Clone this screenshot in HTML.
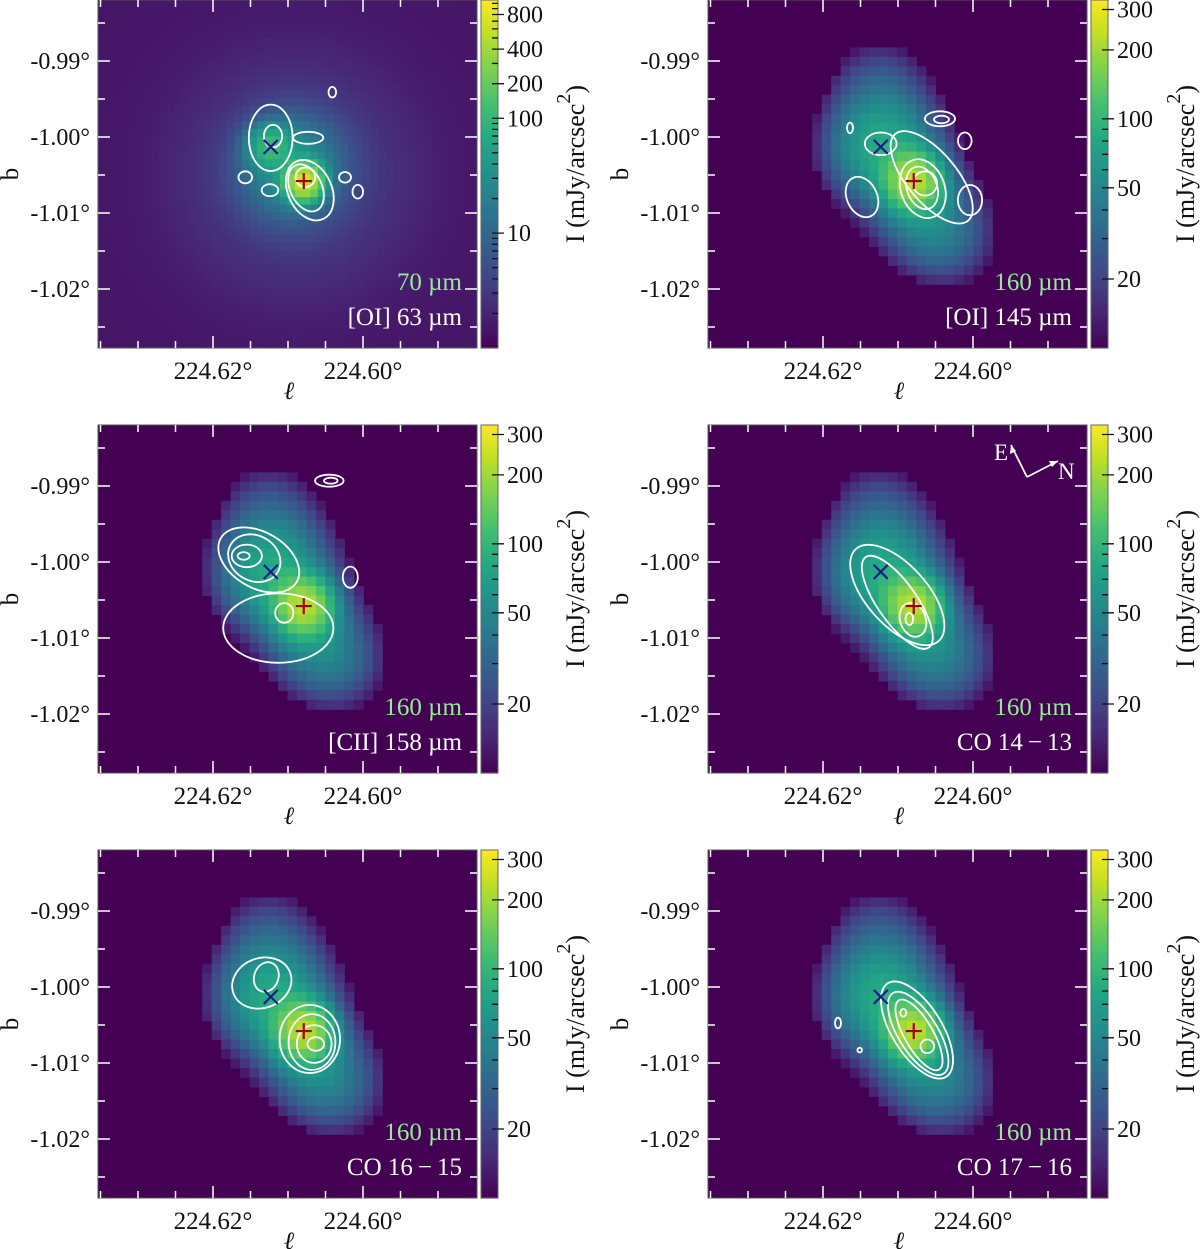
<!DOCTYPE html>
<html><head><meta charset="utf-8">
<style>
html,body{margin:0;padding:0;background:#fff;}
svg{display:block;}
text{font-family:"Liberation Serif","DejaVu Serif",serif;}
</style></head>
<body>
<svg id="fig" width="1200" height="1249" viewBox="0 0 1200 1249" xmlns="http://www.w3.org/2000/svg"></svg>
<script>
// ---------- data ----------
const panelTitles = ["[OI] 63 \u00b5m","[OI] 145 \u00b5m","[CII] 158 \u00b5m","CO 14\u2009\u2212\u200913","CO 16\u2009\u2212\u200915","CO 17\u2009\u2212\u200916"];
const panelBands = ["70 \u00b5m","160 \u00b5m","160 \u00b5m","160 \u00b5m","160 \u00b5m","160 \u00b5m"];
const xTickLabels = [224.62, 224.60];
const yTickLabels = [-0.99, -1.00, -1.01, -1.02];
const cbTicks70 = [10, 100, 200, 400, 800];
const cbTicks160 = [20, 50, 100, 200, 300];
const cbRange70 = [1, 1070];
const cbRange160 = [10, 330];
// markers (l, b)
const markerX = [224.6123, -1.0013];
const markerPlus = [224.6079, -1.0058];
// 70 um emission blobs: l, b, amplitude, sigma (mdeg)
const blob70L = [224.6079, 224.6123, 224.6095, 224.6090];
const blob70B = [-1.0058, -1.0013, -1.0040, -1.0050];
const blob70A = [700, 100, 35, 3];
const blob70S = [1.3, 1.6, 3.5, 9];
const bg70 = 1.5;
// 160 um emission blobs
const blob160L = [224.6079, 224.6123, 224.6067, 224.6033, 224.6127, 224.6090];
const blob160B = [-1.0058, -1.0013, -1.0103, -1.0136, -0.9925, -1.0040];
const blob160A = [180, 70, 30, 24, 18, 12];
const blob160S = [2.4, 4.5, 4.0, 4.5, 4.5, 8.0];
const cut160 = 12.5;
// contours per panel: l, b, rx (mdeg), ry (mdeg), angle (deg)
const c1L = [224.6123,224.6120,224.6071,224.6076,224.6077,224.6157,224.6124,224.6024,224.6007,224.6041,224.6073];
const c1B = [-1.0001,-0.9999,-1.0070,-1.0067,-1.0053,-1.0053,-1.0070,-1.0053,-1.0072,-0.9941,-1.0001];
const c1Rx = [2.9,1.2,2.9,2.1,1.3,0.9,1.1,0.8,0.7,0.5,2.0];
const c1Ry = [4.4,1.5,4.2,3.3,1.3,0.8,0.8,0.7,0.9,0.7,0.8];
const c1A = [0,0,-25,-25,0,0,0,0,0,0,0];
const c2L = [224.6123,224.6055,224.6067,224.6068,224.6064,224.6148,224.6004,224.6044,224.6042,224.6011,224.6164];
const c2B = [-1.0009,-1.0053,-1.0068,-1.0067,-1.0061,-1.0079,-1.0083,-0.9976,-0.9977,-1.0005,-0.9988];
const c2Rx = [2.1,7.5,2.9,2.0,1.6,2.0,1.6,2.0,1.0,0.9,0.4];
const c2Ry = [1.5,3.3,4.0,2.9,1.6,2.8,2.0,1.0,0.5,1.1,0.7];
const c2A = [0,50,-20,-20,0,-25,0,0,0,0,0];
const c3L = [224.6045,224.6043,224.6139,224.6113,224.6145,224.6155,224.6159,224.6105,224.6017];
const c3B = [-0.9893,-0.9893,-0.99974,-1.0087,-0.9995,-0.9992,-0.9992,-1.0067,-1.0020];
const c3Rx = [1.9,0.9,5.8,7.3,3.6,2.0,0.8,1.2,1.0];
const c3Ry = [0.8,0.4,3.7,4.6,3.0,1.5,0.5,1.3,1.4];
const c3A = [0,0,30,0,30,0,0,0,0];
const c4L = [224.6101,224.6101,224.6080,224.6085];
const c4B = [-1.00434,-1.0053,-1.0076,-1.0075];
const c4Rx = [8.2,7.3,1.7,0.5];
const c4Ry = [4.0,2.6,2.3,0.8];
const c4A = [48,55,-20,0];
const c5L = [224.6135,224.6129,224.6071,224.6068,224.6065,224.6063];
const c5B = [-0.99947,-0.99868,-1.00684,-1.00724,-1.0075,-1.0075];
const c5Rx = [4.0,1.6,4.0,3.1,2.3,1.1];
const c5Ry = [3.3,2.0,4.5,3.7,2.5,0.9];
const c5A = [-20,20,0,0,0,0];
const c6L = [224.60747,224.6073,224.6072,224.6061,224.6180,224.6151,224.6093];
const c6B = [-1.00566,-1.0061,-1.0063,-1.0078,-1.00474,-1.0083,-1.0034];
const c6Rx = [7.3,6.3,5.3,0.9,0.4,0.3,0.4];
const c6Ry = [3.3,2.6,1.9,0.9,0.7,0.3,0.5];
const c6A = [58,58,60,0,0,0,0];

// ---------- layout ----------
const NS = "http://www.w3.org/2000/svg";
const svg = document.getElementById('fig');
const PW = 379, PH = 348;
const colX = [98, 708];
const rowY = [0, 425, 850];
const xs = l => 115 + (224.62 - l) * 7500;
const ys = b => 61 + (-0.99 - b) * 7600;
const md = m => m * 7.55; // mdeg -> px

function mk(tag, attrs, parent) {
  const e = document.createElementNS(NS, tag);
  for (const k in attrs) e.setAttribute(k, attrs[k]);
  (parent || svg).appendChild(e);
  return e;
}
const VS = ["#440154","#482475","#414487","#355f8d","#2a788e","#21918c","#22a884","#44bf70","#7ad151","#bddf26","#fde725"];
function hex2rgb(h){return [parseInt(h.substr(1,2),16),parseInt(h.substr(3,2),16),parseInt(h.substr(5,2),16)];}
const VSR = VS.map(hex2rgb);
function viridis(t){
  t = Math.max(0, Math.min(1, t));
  const p = t * 10, i = Math.min(9, Math.floor(p)), f = p - i;
  const a = VSR[i], c = VSR[i+1];
  return `rgb(${Math.round(a[0]+(c[0]-a[0])*f)},${Math.round(a[1]+(c[1]-a[1])*f)},${Math.round(a[2]+(c[2]-a[2])*f)})`;
}
function norm(v, r){ return (Math.log10(v) - Math.log10(r[0])) / (Math.log10(r[1]) - Math.log10(r[0])); }
function field(l, b, L, B, A, S){
  let s = 0;
  for (let k = 0; k < L.length; k++){
    const dl = (l - L[k]) * 1000, db = (b - B[k]) * 1000;
    s += A[k] * Math.exp(-(dl*dl + db*db) / (2 * S[k] * S[k]));
  }
  return s;
}
const contours = [[c1L,c1B,c1Rx,c1Ry,c1A],[c2L,c2B,c2Rx,c2Ry,c2A],[c3L,c3B,c3Rx,c3Ry,c3A],[c4L,c4B,c4Rx,c4Ry,c4A],[c5L,c5B,c5Rx,c5Ry,c5A],[c6L,c6B,c6Rx,c6Ry,c6A]];

const defs = mk('defs', {});
for (let p = 0; p < 6; p++){
  const col = p % 2, row = Math.floor(p / 2);
  const X0 = colX[col], Y0 = rowY[row];
  const is70 = p === 0;
  const rng = is70 ? cbRange70 : cbRange160;
  const g = mk('g', {transform:`translate(${X0},${Y0})`});
  
  
  const cp = mk('clipPath', {id:'clip'+p}, defs);
  mk('rect', {x:0, y:0, width:PW, height:PH}, cp);
  const img = mk('g', {'clip-path':`url(#clip${p})`}, g);
  
  
  mk('rect', {x:0,y:0,width:PW,height:PH,fill:viridis(is70 ? norm(bg70, rng) : 0)}, img);
  const N = is70 ? 50 : 40;
  const cw = PW / N, chh = cw;
  const NR = Math.ceil(PH / chh);
  for (let i = 0; i < N; i++){
    for (let j = 0; j < NR; j++){
      const cx = (i + 0.5) * cw, cy = (j + 0.5) * chh;
      const l = 224.62 - (cx - 115) / 7500, b = -0.99 - (cy - 61) / 7600;
      let v;
      if (is70) v = bg70 + field(l, b, blob70L, blob70B, blob70A, blob70S);
      else { v = field(l, b, blob160L, blob160B, blob160A, blob160S); if (v < cut160) continue; }
      const r = mk('rect', {x:(i*cw).toFixed(2), y:(j*chh).toFixed(2), width:(cw+0.6).toFixed(2), height:(chh+0.6).toFixed(2), fill:viridis(norm(v, rng))}, img);
      
      
    }
  }
  // contours
  const [CL, CB, CRX, CRY, CA] = contours[p];
  for (let k = 0; k < CL.length; k++){
    const cx = xs(CL[k]), cy = ys(CB[k]);
    const e = mk('ellipse', {cx:cx.toFixed(1), cy:cy.toFixed(1), rx:md(CRX[k]).toFixed(1), ry:md(CRY[k]).toFixed(1), transform:`rotate(${CA[k]} ${cx.toFixed(1)} ${cy.toFixed(1)})`, fill:'none', stroke:'#fff', 'stroke-width':1.8}, img);
    
    
  }
  // markers
  const mx = xs(markerX[0]), my = ys(markerX[1]);
  const xm = mk('path', {d:`M${mx-7},${my-7}L${mx+7},${my+7}M${mx+7},${my-7}L${mx-7},${my+7}`, stroke:'#1a1a90', 'stroke-width':2.2, fill:'none'}, img);
  
  
  const px = xs(markerPlus[0]), py = ys(markerPlus[1]);
  const pm = mk('path', {d:`M${px-8},${py}L${px+8},${py}M${px},${py-8}L${px},${py+8}`, stroke:'#a00010', 'stroke-width':2.2, fill:'none'}, img);
  
  
  // frame
  mk('rect', {x:0, y:0, width:PW, height:PH, fill:'none', stroke:'#555', 'stroke-width':1}, g);
  // ticks
  let td = '';
  for (let k = 0; k < 12; k++){
    const lv = 224.645 - k * 0.005; const x = xs(lv);
    if (x < 1 || x > PW - 1) continue;
    const major = Math.abs(Math.round(lv*1000) % 20) === 0;
    const L = major ? 12 : 7;
    td += `M${x},0v${L}M${x},${PH}v${-L}`;
  }
  for (let k = 0; k < 12; k++){
    const bv = -0.98 - k * 0.005; const y = ys(bv);
    if (y < 1 || y > PH - 1) continue;
    const major = Math.abs(Math.round(bv*1000) % 10) === 0;
    const L = major ? 12 : 7;
    td += `M0,${y}h${L}M${PW},${y}h${-L}`;
  }
  const tk = mk('path', {d:td, stroke:'#fff', 'stroke-width':1.5, fill:'none'}, g);
  
  
  // tick labels
  xTickLabels.forEach(v => {
    const t = mk('text', {x:xs(v), y:PH+31, 'font-size':25, 'text-anchor':'middle', fill:'#111'}, g);
    t.textContent = v.toFixed(2) + '\u00b0';
    
    
  });
  yTickLabels.forEach(v => {
    const t = mk('text', {x:-8, y:ys(v)+8, 'font-size':24, 'text-anchor':'end', fill:'#111'}, g);
    t.textContent = v.toFixed(2) + '\u00b0';
    
    
  });
  const xl = mk('text', {x:191, y:PH+51, 'font-size':25, 'text-anchor':'middle', fill:'#111', 'font-style':'italic'}, g);
  xl.textContent = '\u2113';
  
  
  const yl = mk('text', {x:0, y:0, 'font-size':25, 'text-anchor':'middle', fill:'#111', transform:`translate(${-80},174) rotate(-90)`}, g);
  yl.textContent = 'b';
  
  
  // panel labels
  const bl = mk('text', {x:364, y:290, 'font-size':25, 'text-anchor':'end', fill:'#90ee90'}, g);
  bl.textContent = panelBands[p];
  
  
  const tl = mk('text', {x:364, y:325, 'font-size':25, 'text-anchor':'end', fill:'#fff'}, g);
  tl.textContent = panelTitles[p];
  
  
  if (p === 3){
    const cmp = mk('g', {}, g);
    
    
    mk('path', {d:'M319,52L303,20M319,52L350,36', stroke:'#fff', 'stroke-width':1.8, fill:'none'}, cmp);
    mk('path', {d:'M303,20l-1,9l6,-3z M350,36l-9,0l3,6z', fill:'#fff'}, cmp);
    const e = mk('text', {x:286, y:35, 'font-size':23, fill:'#fff'}, cmp); e.textContent = 'E';
    const n = mk('text', {x:350, y:54, 'font-size':23, fill:'#fff'}, cmp); n.textContent = 'N';
  }
  // colorbar
  const CBX = PW + 4, CBW = 17;
  const cb = mk('g', {}, g);
  
  
  const NS_ = 116;
  for (let s = 0; s < NS_; s++){
    mk('rect', {x:CBX, y:(s*PH/NS_).toFixed(2), width:CBW, height:(PH/NS_+0.6).toFixed(2), fill:viridis(1 - (s+0.5)/NS_)}, cb);
  }
  mk('rect', {x:CBX, y:0, width:CBW, height:PH, fill:'none', stroke:'#666', 'stroke-width':1}, cb);
  const cbY = v => PH * (1 - norm(v, rng));
  let cd = '';
  for (let dec = Math.floor(Math.log10(rng[0])); dec <= 3; dec++){
    for (let m = 1; m <= 9; m++){
      const v = m * Math.pow(10, dec);
      if (v <= rng[0] || v >= rng[1]) continue;
      const y = cbY(v);
      cd += `M${CBX+CBW-6},${y}h6`;
    }
  }
  const ticks = is70 ? cbTicks70 : cbTicks160;
  ticks.forEach(v => { cd += `M${CBX+CBW-6},${cbY(v)}h12`; });
  mk('path', {d:cd, stroke:'#111', 'stroke-width':1.3, fill:'none'}, cb);
  ticks.forEach(v => {
    const t = mk('text', {x:CBX+CBW+9, y:cbY(v)+8, 'font-size':24, fill:'#111'}, cb);
    t.textContent = String(v);
    
    
  });
  const ct = mk('text', {x:0, y:0, 'font-size':26, 'text-anchor':'middle', fill:'#111', transform:`translate(${CBX+CBW+86},164) rotate(-90)`}, cb);
  
  
  ct.appendChild(document.createTextNode('I (mJy/arcsec'));
  const sup = mk('tspan', {dy:-14, 'font-size':20}, ct); sup.textContent = '2';
  const cl = mk('tspan', {dy:14}, ct); cl.textContent = ')';
}
</script>
</body></html>
